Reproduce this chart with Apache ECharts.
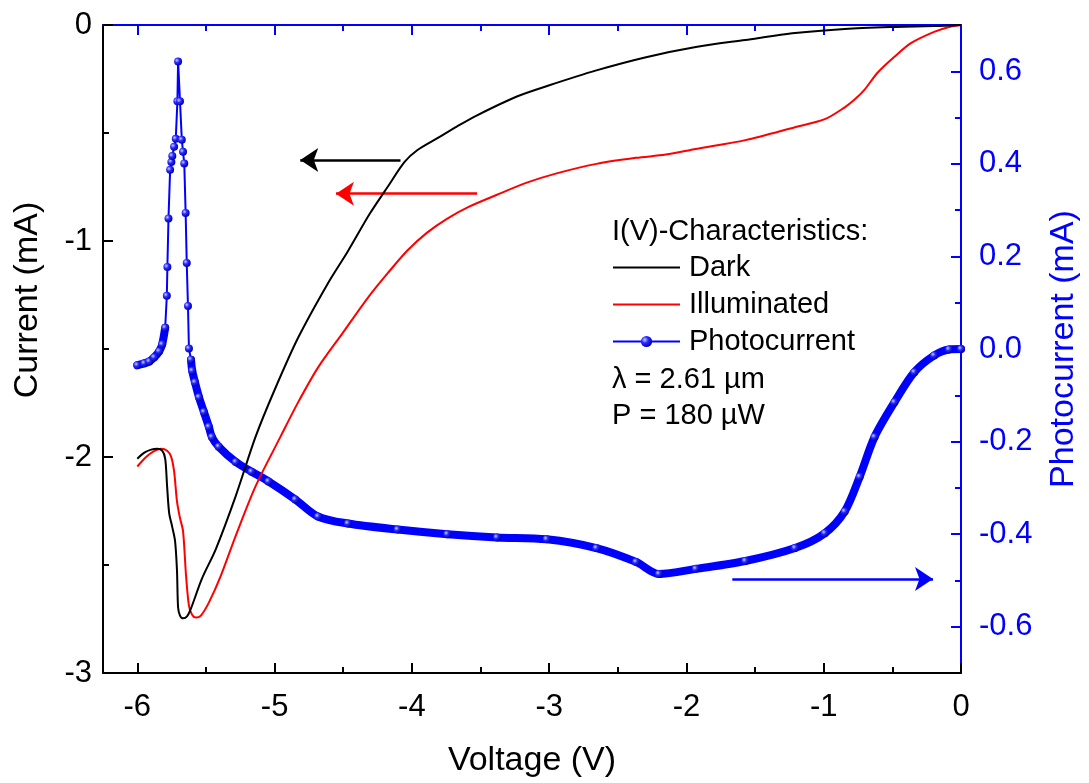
<!DOCTYPE html>
<html>
<head>
<meta charset="utf-8">
<script src="https://cdn.jsdelivr.net/npm/echarts@6/dist/echarts.min.js"></script>
<style>html,body{margin:0;padding:0;background:#fff;overflow:hidden;width:1089px;height:783px;}#c{width:1089px;height:783px;}</style>
</head>
<body>
<div id="c"></div>
<script>
// ---- data ----
const voltageTicks = [-6, -5, -4, -3, -2, -1, 0];
const voltageMinorTicks = [-5.5, -4.5, -3.5, -2.5, -1.5, -0.5];
const currentTicks = [-3, -2, -1, 0];
const currentMinorTicks = [-2.5, -1.5, -0.5];
const photoTicks = [-0.6, -0.4, -0.2, 0, 0.2, 0.4, 0.6];
const photoMinorTicks = [-0.5, -0.3, -0.1, 0.1, 0.3, 0.5];

const darkV = [-6.000,-5.949,-5.899,-5.855,-5.819,-5.797,-5.783,-5.768,-5.747,-5.725,-5.711,-5.703,-5.689,-5.667,-5.638,-5.609,-5.530,-5.428,-5.284,-5.139,-5.001,-4.828,-4.610,-4.466,-4.306,-4.176,-4.053,-3.959,-3.814,-3.670,-3.525,-3.235,-3.004,-2.656,-2.294,-1.932,-1.571,-1.209,-0.847,-0.485,-0.196,0.000];
const darkI = [-2.008,-1.980,-1.966,-1.962,-1.971,-2.008,-2.136,-2.260,-2.320,-2.389,-2.527,-2.697,-2.734,-2.747,-2.738,-2.701,-2.564,-2.426,-2.182,-1.907,-1.691,-1.447,-1.194,-1.047,-0.873,-0.749,-0.634,-0.579,-0.524,-0.469,-0.418,-0.331,-0.280,-0.210,-0.149,-0.102,-0.069,-0.037,-0.018,-0.009,-0.005,0.000];

const illumV = [-6.000,-5.942,-5.884,-5.826,-5.783,-5.754,-5.732,-5.711,-5.689,-5.667,-5.645,-5.624,-5.602,-5.573,-5.537,-5.479,-5.392,-5.284,-5.139,-4.958,-4.828,-4.683,-4.502,-4.321,-4.176,-4.031,-3.887,-3.742,-3.583,-3.380,-3.163,-2.946,-2.656,-2.367,-2.150,-1.932,-1.571,-1.209,-0.992,-0.847,-0.775,-0.702,-0.608,-0.485,-0.362,-0.196,-0.087,0.000];
const illumI = [-2.044,-2.003,-1.975,-1.962,-1.971,-1.998,-2.067,-2.205,-2.283,-2.343,-2.550,-2.688,-2.729,-2.743,-2.734,-2.674,-2.550,-2.366,-2.136,-1.907,-1.746,-1.585,-1.424,-1.263,-1.149,-1.043,-0.960,-0.896,-0.841,-0.786,-0.730,-0.687,-0.643,-0.615,-0.600,-0.574,-0.533,-0.473,-0.436,-0.381,-0.345,-0.299,-0.221,-0.147,-0.083,-0.032,-0.009,0.000];

const photoV = [-6.000,-5.949,-5.913,-5.877,-5.841,-5.819,-5.797,-5.785,-5.781,-5.773,-5.761,-5.752,-5.745,-5.732,-5.720,-5.708,-5.703,-5.689,-5.676,-5.667,-5.658,-5.648,-5.640,-5.631,-5.624,-5.609,-5.600,-5.580,-5.551,-5.515,-5.479,-5.457,-5.407,-5.283,-5.168,-5.045,-4.849,-4.683,-4.466,-4.104,-3.742,-3.380,-3.018,-2.656,-2.367,-2.200,-1.932,-1.571,-1.209,-0.992,-0.847,-0.738,-0.630,-0.485,-0.340,-0.196,-0.087,0.000];
const photoI = [-0.035,-0.031,-0.027,-0.018,-0.005,0.010,0.046,0.115,0.177,0.282,0.387,0.404,0.417,0.437,0.454,0.535,0.621,0.535,0.452,0.426,0.401,0.294,0.186,0.093,0.001,-0.023,-0.047,-0.072,-0.104,-0.136,-0.168,-0.190,-0.211,-0.244,-0.265,-0.286,-0.325,-0.362,-0.377,-0.390,-0.400,-0.407,-0.411,-0.430,-0.460,-0.486,-0.475,-0.458,-0.430,-0.398,-0.351,-0.276,-0.190,-0.115,-0.050,-0.014,-0.001,0.000];

// annotation arrows [start, end] in data units
const darkArrow = [[-4.083, -0.625], [-4.813, -0.625]];
const illumArrow = [[-3.525, -0.781], [-4.553, -0.781]];
const photoArrow = [[-1.666, -0.497], [-0.204, -0.497]];

const legendTitle = 'I(V)-Characteristics:';
const noteLines = ['\u03bb = 2.61 \u00b5m', 'P = 180 \u00b5W'];

// ---- build ----
const zip = (a, b) => a.map((v, i) => [v, b[i]]);
const photoData = zip(photoV, photoI);
const bandA = photoData.slice(0, 7);
const bandB = photoData.slice(25);

const FONT = 'Liberation Sans';
const BLUE = '#0000ff';
const TICK_FS = 31, NAME_FS = 34, LEG_FS = 29;

const markerColor = new echarts.graphic.RadialGradient(0.35, 0.35, 0.65, [
  {offset: 0, color: '#c8ceff'},
  {offset: 0.45, color: '#2a2aff'},
  {offset: 1, color: '#0000b8'}
]);

function arrow(a, color) {
  return {
    silent: true, animation: false,
    symbol: ['none', 'arrow'], symbolSize: 18,
    label: {show: false},
    lineStyle: {color: color, width: 2.5, type: 'solid'},
    emphasis: {disabled: true},
    data: [[{coord: a[0]}, {coord: a[1]}]]
  };
}

const chart = echarts.init(document.getElementById('c'), null, {renderer: 'canvas', width: 1089, height: 783});
const xBase = {type: 'value', min: -6.25, max: 0, gridIndex: 0, splitLine: {show: false}};
const tickOnly = (pos, values, len, color, extra) => Object.assign({
  position: pos,
  axisLine: {show: false, onZero: false},
  axisTick: {show: true, inside: true, length: len, customValues: values, lineStyle: {color: color, width: 2}},
  axisLabel: {show: false}
}, extra || {});

chart.setOption({
  animation: false,
  backgroundColor: '#fff',
  grid: {left: 103, right: 122, top: 25, bottom: 105, containLabel: false},
  xAxis: [
    Object.assign({}, xBase, {
      position: 'bottom',
      name: 'Voltage (V)', nameLocation: 'middle', nameGap: 71,
      nameTextStyle: {fontFamily: FONT, fontSize: NAME_FS, color: '#000'},
      axisLine: {show: true, onZero: false, lineStyle: {color: '#000', width: 2}},
      axisTick: {show: true, inside: true, length: 10, customValues: voltageTicks, lineStyle: {color: '#000', width: 2}},
      axisLabel: {show: true, customValues: voltageTicks, margin: 19, fontFamily: FONT, fontSize: TICK_FS, color: '#000',
        formatter: v => String(Math.round(v))}
    }),
    Object.assign({}, xBase, tickOnly('bottom', voltageMinorTicks, 6, '#000')),
    Object.assign({}, xBase, {
      position: 'top',
      axisLine: {show: true, onZero: false, lineStyle: {color: BLUE, width: 2}},
      axisTick: {show: true, inside: true, length: 10, customValues: voltageTicks, lineStyle: {color: BLUE, width: 2}},
      axisLabel: {show: false}
    }),
    Object.assign({}, xBase, tickOnly('top', voltageMinorTicks, 6, BLUE))
  ],
  yAxis: [
    {
      type: 'value', min: -3, max: 0, position: 'left',
      splitLine: {show: false},
      axisLine: {show: true, onZero: false, lineStyle: {color: '#000', width: 2}},
      axisTick: {show: true, inside: true, length: 10, customValues: currentTicks, lineStyle: {color: '#000', width: 2}},
      axisLabel: {customValues: currentTicks, margin: 11, fontFamily: FONT, fontSize: TICK_FS, color: '#000',
        formatter: v => String(Math.round(v))}
    },
    {
      type: 'value', min: -0.7, max: 0.7, position: 'right',
      name: 'Photocurrent (mA)', nameLocation: 'middle', nameGap: 86, nameRotate: 90,
      nameTextStyle: {fontFamily: FONT, fontSize: NAME_FS, color: BLUE},
      splitLine: {show: false},
      axisLine: {show: true, onZero: false, lineStyle: {color: BLUE, width: 2}},
      axisTick: {show: true, inside: true, length: 10, customValues: photoTicks, lineStyle: {color: BLUE, width: 2}},
      axisLabel: {customValues: photoTicks, margin: 18, fontFamily: FONT, fontSize: TICK_FS, color: BLUE,
        formatter: v => (Math.abs(v) < 1e-9 ? 0 : v).toFixed(1)}
    },
    Object.assign({type: 'value', min: -0.7, max: 0.7, splitLine: {show: false}}, tickOnly('right', photoMinorTicks, 6, BLUE)),
    Object.assign({type: 'value', min: -3, max: 0, splitLine: {show: false}}, tickOnly('left', currentMinorTicks, 6, '#000'))
  ],
  legend: {
    orient: 'vertical', left: 612, top: 253, padding: 0,
    itemWidth: 67, itemHeight: 14, itemGap: 8,
    selectedMode: false,
    data: [
      {name: 'Dark', itemStyle: {opacity: 0}},
      {name: 'Illuminated', itemStyle: {opacity: 0}},
      'Photocurrent'
    ],
    textStyle: {fontFamily: FONT, fontSize: LEG_FS, color: '#000', lineHeight: 29, padding: [0, 0, 0, 4]}
  },
  graphic: [
    {type: 'text', x: 28, y: 300, rotation: Math.PI / 2, silent: true,
      style: {text: 'Current (mA)', font: NAME_FS + 'px "Liberation Sans"', fill: '#000', align: 'center', verticalAlign: 'middle'}},
    {type: 'text', left: 612, top: 217, silent: true,
      style: {text: legendTitle, font: LEG_FS + 'px "Liberation Sans"', fill: '#000'}},
    {type: 'text', left: 612, top: 365, silent: true,
      style: {text: noteLines[0], font: LEG_FS + 'px "Liberation Sans"', fill: '#000'}},
    {type: 'text', left: 612, top: 401, silent: true,
      style: {text: noteLines[1], font: LEG_FS + 'px "Liberation Sans"', fill: '#000'}}
  ],
  series: [
    {
      name: 'band1', type: 'line', xAxisIndex: 0, yAxisIndex: 1, data: bandA,
      symbol: 'none', smooth: 0.3, silent: true, z: 2,
      lineStyle: {color: BLUE, width: 8, cap: 'round', join: 'round'}
    },
    {
      name: 'band2', type: 'line', xAxisIndex: 0, yAxisIndex: 1, data: bandB,
      symbol: 'none', smooth: 0.3, silent: true, z: 2,
      lineStyle: {color: BLUE, width: 8, cap: 'round', join: 'round'}
    },
    {
      name: 'Photocurrent', type: 'line', xAxisIndex: 0, yAxisIndex: 1, data: photoData,
      symbol: 'circle', symbolSize: 8, showAllSymbol: true, z: 3,
      lineStyle: {color: BLUE, width: 2},
      itemStyle: {color: markerColor, borderWidth: 0},
      markLine: arrow(photoArrow, BLUE)
    },
    {
      name: 'Illuminated', type: 'line', xAxisIndex: 0, yAxisIndex: 0, data: zip(illumV, illumI),
      symbol: 'none', smooth: 0.3, z: 4,
      lineStyle: {color: '#ff0000', width: 2},
      itemStyle: {color: '#ff0000'},
      markLine: arrow(illumArrow, '#ff0000')
    },
    {
      name: 'Dark', type: 'line', xAxisIndex: 0, yAxisIndex: 0, data: zip(darkV, darkI),
      symbol: 'none', smooth: 0.3, z: 5,
      lineStyle: {color: '#000000', width: 2},
      itemStyle: {color: '#000000'},
      markLine: arrow(darkArrow, '#000000')
    }
  ]
});
</script>
</body>
</html>
